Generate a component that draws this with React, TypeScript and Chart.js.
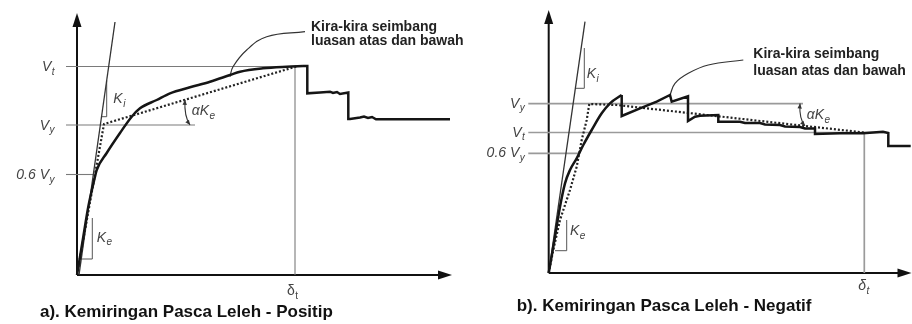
import React, { useEffect, useRef } from "react";
import { Chart, registerables } from "chart.js";

Chart.register(...registerables);

// ================= Panel a) : Kemiringan Pasca Leleh - Positip =================
const aCurveX = [0, 6.3, 11.3, 18, 19.7, 29.7, 43, 54.7, 63, 79.7, 93, 113, 133, 153, 163, 186, 209.7, 226];
const aCurveY = [0, 38.3, 68.3, 98.3, 105, 122, 142, 158.3, 166.7, 175, 181.7, 187.7, 193.3, 200, 203.3, 206.7, 208.3, 209];
const aStepX = [226, 230.3, 230.3, 243, 253, 256, 260, 263, 271.3, 271.3, 273, 283, 287, 291, 295, 299, 373];
const aStepY = [209, 209, 181.7, 182.5, 183.3, 182, 183, 181, 182.5, 156, 156, 157.5, 158.5, 157, 158, 155.7, 155.7];
const aIdealX = [0, 27, 221];
const aIdealY = [0, 151, 209];
const aKiX = [2, 38];
const aKiY = [0, 253];
const aKiTriX = [24.5, 29.7, 29.7];
const aKiTriY = [158.3, 158.3, 194.7];
const aKeTriX = [3, 15.3, 15.3];
const aKeTriY = [16, 16, 57];
const aLeaderX = [228, 189.7, 169.7, 156, 153];
const aLeaderY = [243.3, 238.3, 225, 208.3, 198.3];
const aLevels = [208.5, 150, 100.5];
const aLevelEnds = [218, 118, 16];
const aLevelNames = ["V", "V", "0.6 V"];
const aLevelSubs = ["t", "y", "y"];
const aDelta = 218;

// ================= Panel b) : Kemiringan Pasca Leleh - Negatif =================
const bCurveX = [0, 6.3, 11.3, 16.3, 21.3, 28, 34.6, 43, 53, 61.3, 73];
const bCurveY = [0, 36.3, 66.3, 89.7, 103, 114.7, 128, 143, 159.7, 169.7, 178];
const bStepX = [73, 73, 91.3, 108, 121.3, 123, 139.3, 139.3, 146.3, 151.3, 169.6, 169.6, 191.3, 196.3, 211.3, 216.3, 231.3, 236.3, 251.3, 256.3, 266.3, 266.3, 291.3, 314.3, 334.3, 339.6, 339.6, 362];
const bStepY = [178, 157, 164.7, 171.3, 178, 171.3, 176.7, 152, 156.3, 157.3, 158, 151.3, 151.3, 150, 150, 148.5, 148, 146.5, 146, 144.5, 144.5, 139, 139.7, 139.7, 141.3, 140, 127, 127];
const bIdealX = [0, 4.6, 11.3, 21.3, 28, 33, 38, 40.6, 68, 315.3];
const bIdealY = [0, 23, 53, 83, 106.3, 133, 153, 169, 168, 140.5];
const bKiX = [0, 36.3];
const bKiY = [0, 251.3];
const bKiTriX = [26.7, 35.6, 35.6];
const bKiTriY = [184.7, 184.7, 225];
const bKeTriX = [6.3, 18, 18];
const bKeTriY = [22.3, 22.3, 53];
const bLeaderX = [194.6, 159.6, 139.6, 126.3, 121.3];
const bLeaderY = [213, 208, 199.7, 189.7, 178];
const bLevels = [169.3, 140.5, 119.7];
const bLevelEnds = [254.3, 336.3, 29.3];
const bLevelNames = ["V", "V", "0.6 V"];
const bLevelSubs = ["y", "t", "y"];
const bDelta = 315.6;

const NOTE = ["Kira-kira seimbang", "luasan atas dan bawah"];
const FONT = '"Liberation Sans", Arial, Helvetica, sans-serif';

const xy = (xs: number[], ys: number[]) => xs.map((x, i) => ({ x, y: ys[i] }));

function line(data: any[], color: string, width: number, extra: any = {}) {
  return {
    data,
    showLine: true,
    borderColor: color,
    backgroundColor: color,
    borderWidth: width,
    pointRadius: 0,
    pointHoverRadius: 0,
    fill: false,
    clip: false,
    tension: 0,
    ...extra,
  };
}

function subText(ctx: CanvasRenderingContext2D, main: string, sub: string, x: number, y: number, size: number, align: string, italic: boolean, color: string) {
  const f = `${italic ? "italic " : ""}${size}px ${FONT}`;
  const fs = `${italic ? "italic " : ""}${Math.round(size * 0.68)}px ${FONT}`;
  ctx.font = f;
  const w1 = ctx.measureText(main).width;
  ctx.font = fs;
  const w2 = ctx.measureText(sub).width;
  const sx = align === "right" ? x - w1 - w2 - 1 : x;
  ctx.fillStyle = color;
  ctx.textAlign = "left";
  ctx.textBaseline = "alphabetic";
  ctx.font = f;
  ctx.fillText(main, sx, y);
  ctx.font = fs;
  ctx.fillText(sub, sx + w1 + 0.5, y + size * 0.25);
}

function arrowHead(ctx: CanvasRenderingContext2D, x: number, y: number, ang: number, len: number, half: number) {
  ctx.beginPath();
  ctx.moveTo(x, y);
  ctx.lineTo(x - len * Math.cos(ang) + half * Math.sin(ang), y - len * Math.sin(ang) - half * Math.cos(ang));
  ctx.lineTo(x - len * Math.cos(ang) - half * Math.sin(ang), y - len * Math.sin(ang) + half * Math.cos(ang));
  ctx.closePath();
  ctx.fill();
}

type Spec = {
  id: string;
  width: number;
  left: number;
  pad: { left: number; right: number; top: number; bottom: number };
  xMax: number;
  yMax: number;
  curveX: number[]; curveY: number[];
  stepX: number[]; stepY: number[];
  idealX: number[]; idealY: number[];
  kiX: number[]; kiY: number[];
  kiTriX: number[]; kiTriY: number[];
  keTriX: number[]; keTriY: number[];
  leaderX: number[]; leaderY: number[];
  levels: number[]; levelEnds: number[]; levelStart: number;
  levelNames: string[]; levelSubs: string[];
  labelGap: number; labelDy: number;
  delta: number; deltaTop: number; deltaDx: number; deltaBase: number; deltaItalic: boolean;
  refColor: string; refWidth: number;
  kiLabel: [number, number]; keLabel: [number, number];
  alphaArc: [number, number, number, number];
  alphaLabel: [number, number];
  noteDx: number; noteBase: number[];
  caption: string; captionX: number; captionBase: number;
};

function buildChart(canvas: HTMLCanvasElement, p: Spec) {
  const datasets: any[] = [
    line(xy(p.curveX, p.curveY), "#151515", 2.5, { cubicInterpolationMode: "monotone" }),
    line(xy(p.stepX, p.stepY), "#151515", 2.5),
    line(xy(p.idealX, p.idealY), "#222", 2.2, { borderDash: [2, 2] }),
    line(xy(p.kiX, p.kiY), "#333", 1.3),
    line(xy(p.kiTriX, p.kiTriY), "#555", 1),
    line(xy(p.keTriX, p.keTriY), "#555", 1),
    line(xy(p.leaderX, p.leaderY), "#333", 1.2, { tension: 0.4 }),
    line([{ x: p.delta, y: 0 }, { x: p.delta, y: p.deltaTop }], p.refColor, p.refWidth),
  ];
  p.levels.forEach((v, i) =>
    datasets.push(line([{ x: p.levelStart, y: v }, { x: p.levelEnds[i], y: v }], p.refColor, p.refWidth))
  );

  const decor = {
    id: "decor" + p.id,
    beforeDatasetsDraw(chart: any) {
      const { ctx, chartArea: a, scales } = chart;
      const ox = scales.x.getPixelForValue(0);
      const oy = scales.y.getPixelForValue(0);
      ctx.save();
      ctx.strokeStyle = "#111";
      ctx.fillStyle = "#111";
      ctx.lineWidth = 2;
      ctx.beginPath();
      ctx.moveTo(ox, oy);
      ctx.lineTo(a.right - 10, oy);
      ctx.moveTo(ox, oy);
      ctx.lineTo(ox, a.top + 10);
      ctx.stroke();
      arrowHead(ctx, a.right, oy, 0, 14, 4.5);
      arrowHead(ctx, ox, a.top, -Math.PI / 2, 14, 4.5);
      ctx.restore();
    },
    afterDatasetsDraw(chart: any) {
      const { ctx, scales } = chart;
      const px = (v: number) => scales.x.getPixelForValue(v);
      const py = (v: number) => scales.y.getPixelForValue(v);
      ctx.save();
      // level labels
      p.levels.forEach((v, i) => {
        subText(ctx, p.levelNames[i], p.levelSubs[i], px(p.levelStart) - p.labelGap, py(v) + p.labelDy, 14, "right", true, "#444");
      });
      // delta label
      subText(ctx, "δ", "t", px(p.delta) - p.deltaDx, p.deltaBase, 14, "left", p.deltaItalic, "#444");
      // Ki, Ke labels
      subText(ctx, "K", "i", px(p.kiLabel[0]), py(p.kiLabel[1]), 14, "left", true, "#444");
      subText(ctx, "K", "e", px(p.keLabel[0]), py(p.keLabel[1]), 14, "left", true, "#444");
      // alpha arc
      const [ax0, ay0, ax1, ay1] = p.alphaArc;
      const x0 = px(ax0), y0 = py(ay0), x1 = px(ax1), y1 = py(ay1);
      ctx.strokeStyle = "#333";
      ctx.fillStyle = "#333";
      ctx.lineWidth = 1.1;
      const cx = Math.min(x0, x1) - 1, cy = (y0 + y1) / 2 + 4;
      ctx.beginPath();
      ctx.moveTo(x0, y0);
      ctx.quadraticCurveTo(cx, cy, x1, y1);
      ctx.stroke();
      arrowHead(ctx, x1, y1, Math.atan2(y1 - cy, x1 - cx), 5, 2.2);
      arrowHead(ctx, x0, y0, Math.atan2(y0 - cy, x0 - cx), 5, 2.2);
      subText(ctx, "αK", "e", px(p.alphaLabel[0]), py(p.alphaLabel[1]), 14, "left", true, "#444");
      // note text
      const nx = px(p.leaderX[0]) + p.noteDx;
      ctx.fillStyle = "#222";
      ctx.font = `bold 14px ${FONT}`;
      ctx.textAlign = "left";
      ctx.textBaseline = "alphabetic";
      NOTE.forEach((t, i) => ctx.fillText(t, nx, p.noteBase[i]));
      // caption
      ctx.fillStyle = "#111";
      ctx.font = `bold 17px ${FONT}`;
      ctx.fillText(p.caption, p.captionX, p.captionBase);
      ctx.restore();
    },
  };

  return new Chart(canvas, {
    type: "scatter",
    data: { datasets },
    options: {
      responsive: false,
      maintainAspectRatio: false,
      animation: false,
      events: [],
      layout: { padding: p.pad },
      plugins: { legend: { display: false }, tooltip: { enabled: false } },
      scales: {
        x: { type: "linear", display: false, min: 0, max: p.xMax },
        y: { type: "linear", display: false, min: 0, max: p.yMax },
      },
    },
    plugins: [decor],
  } as any);
}

const specA: Spec = {
  id: "a", width: 470, left: 0,
  pad: { left: 77, right: 18, top: 13, bottom: 49 },
  xMax: 375, yMax: 262,
  curveX: aCurveX, curveY: aCurveY, stepX: aStepX, stepY: aStepY,
  idealX: aIdealX, idealY: aIdealY, kiX: aKiX, kiY: aKiY,
  kiTriX: aKiTriX, kiTriY: aKiTriY, keTriX: aKeTriX, keTriY: aKeTriY,
  leaderX: aLeaderX, leaderY: aLeaderY,
  levels: aLevels, levelEnds: aLevelEnds, levelStart: -11,
  levelNames: aLevelNames, levelSubs: aLevelSubs,
  labelGap: 11, labelDy: 4.5,
  delta: aDelta, deltaTop: aLevels[0], deltaDx: 8, deltaBase: 295, deltaItalic: false,
  refColor: "#7a7a7a", refWidth: 1.1,
  kiLabel: [36.3, 172], keLabel: [19.7, 33.5],
  alphaArc: [108, 175.2, 113, 150],
  alphaLabel: [114.7, 160],
  noteDx: 6, noteBase: [31, 45],
  caption: "a). Kemiringan Pasca Leleh - Positip", captionX: 40, captionBase: 317,
};

const specB: Spec = {
  id: "b", width: 456, left: 456,
  pad: { left: 92.7, right: 0.5, top: 10, bottom: 51 },
  xMax: 362.8, yMax: 263,
  curveX: bCurveX, curveY: bCurveY, stepX: bStepX, stepY: bStepY,
  idealX: bIdealX, idealY: bIdealY, kiX: bKiX, kiY: bKiY,
  kiTriX: bKiTriX, kiTriY: bKiTriY, keTriX: bKeTriX, keTriY: bKeTriY,
  leaderX: bLeaderX, leaderY: bLeaderY,
  levels: bLevels, levelEnds: bLevelEnds, levelStart: -20.4,
  levelNames: bLevelNames, levelSubs: bLevelSubs,
  labelGap: 3, labelDy: 4,
  delta: bDelta, deltaTop: bLevels[1], deltaDx: 6, deltaBase: 290, deltaItalic: true,
  refColor: "#9a9a9a", refWidth: 1.7,
  kiLabel: [38, 195], keLabel: [21.3, 38],
  alphaArc: [251.3, 169.5, 256.3, 147],
  alphaLabel: [258, 154],
  noteDx: 10, noteBase: [58, 75],
  caption: "b). Kemiringan Pasca Leleh - Negatif", captionX: 60.7, captionBase: 311,
};

function Panel({ spec }: { spec: Spec }) {
  const ref = useRef<HTMLCanvasElement | null>(null);
  useEffect(() => {
    if (!ref.current) return;
    const chart = buildChart(ref.current, spec);
    return () => chart.destroy();
  }, [spec]);
  return (
    <canvas
      ref={ref}
      width={spec.width}
      height={324}
      style={{ position: "absolute", left: spec.left, top: 0, width: spec.width, height: 324 }}
    />
  );
}

export default function App() {
  return (
    <div style={{ position: "fixed", left: 0, top: 0, width: 912, height: 324, background: "#fff", overflow: "hidden" }}>
      <Panel spec={specA} />
      <Panel spec={specB} />
    </div>
  );
}
